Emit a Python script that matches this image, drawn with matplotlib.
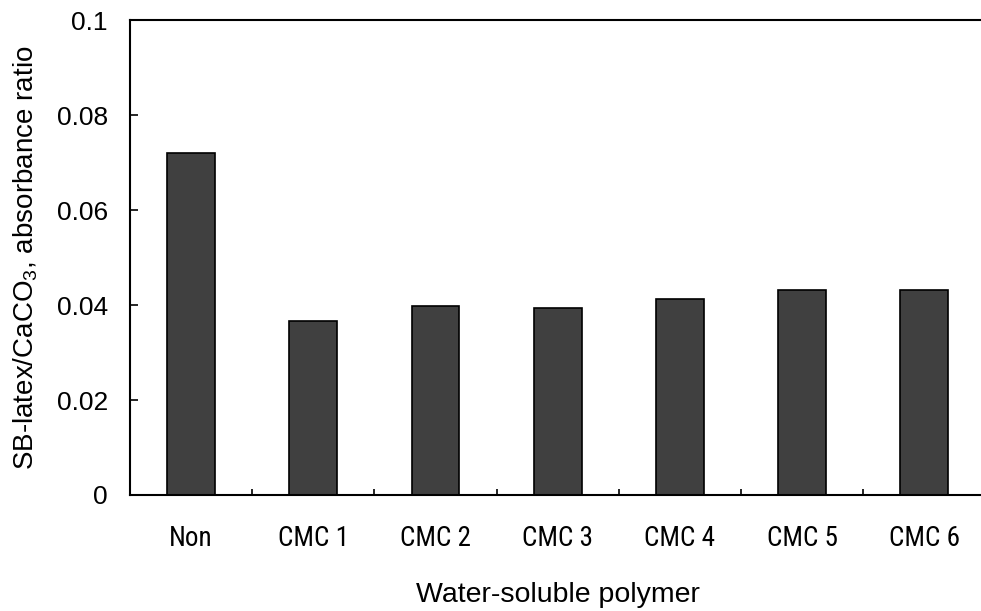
import numpy as np
import matplotlib.pyplot as plt
from matplotlib.ticker import FixedLocator
from matplotlib import font_manager

plt.rcParams['font.family'] = ['Liberation Sans', 'DejaVu Sans']
plt.rcParams['mathtext.fontset'] = 'custom'
plt.rcParams['mathtext.rm'] = 'Liberation Sans'
plt.rcParams['mathtext.it'] = 'Liberation Sans'

# values
samples = ['Non', 'CMC 1', 'CMC 2', 'CMC 3', 'CMC 4', 'CMC 5', 'CMC 6']
ratio = [0.0721, 0.0367, 0.0398, 0.0393, 0.0413, 0.0431, 0.0431]
yticks = [0, 0.02, 0.04, 0.06, 0.08, 0.1]
ytick_labels = ['0', '0.02', '0.04', '0.06', '0.08', '0.1']

# narrow face for the category labels, if one is around
names = {f.name for f in font_manager.fontManager.ttflist}
narrow = [n for n in ['Liberation Sans Narrow', 'DejaVu Sans Condensed', 'Roboto Condensed']
          if n in names]
if narrow:
    xfam, xsize = [narrow[0], 'Liberation Sans'], 19.5
else:
    xfam, xsize = ['Liberation Sans'], 16.5

fig = plt.figure(figsize=(9.81, 6.11), dpi=100)
ax = fig.add_axes([0.1325, 0.19, 0.872, 0.7765])

x = np.arange(len(samples))
ax.bar(x, ratio, width=0.39, color='#404040', edgecolor='black', linewidth=1.2)

ax.set_xlim(-0.5, len(samples) - 0.5)
ax.set_ylim(0, 0.1)

ax.set_yticks(yticks)
ax.set_yticklabels(ytick_labels, fontsize=19)
ax.tick_params(axis='y', direction='in', length=6, width=1.2, pad=16)

ax.set_xticks(x)
ax.set_xticklabels(samples, fontsize=xsize, family=xfam)
ax.tick_params(axis='x', which='major', length=0, pad=22)
ax.xaxis.set_minor_locator(FixedLocator(x[:-1] + 0.5))
ax.tick_params(axis='x', which='minor', direction='in', length=4.5, width=1.2)

for s in ax.spines.values():
    s.set_linewidth(1.5)

ax.set_xlabel('Water-soluble polymer', fontsize=20.5, labelpad=21)
ax.set_ylabel('SB-latex/CaCO$_3$, absorbance ratio', fontsize=20, labelpad=12)

plt.savefig('out.png', dpi=100)
